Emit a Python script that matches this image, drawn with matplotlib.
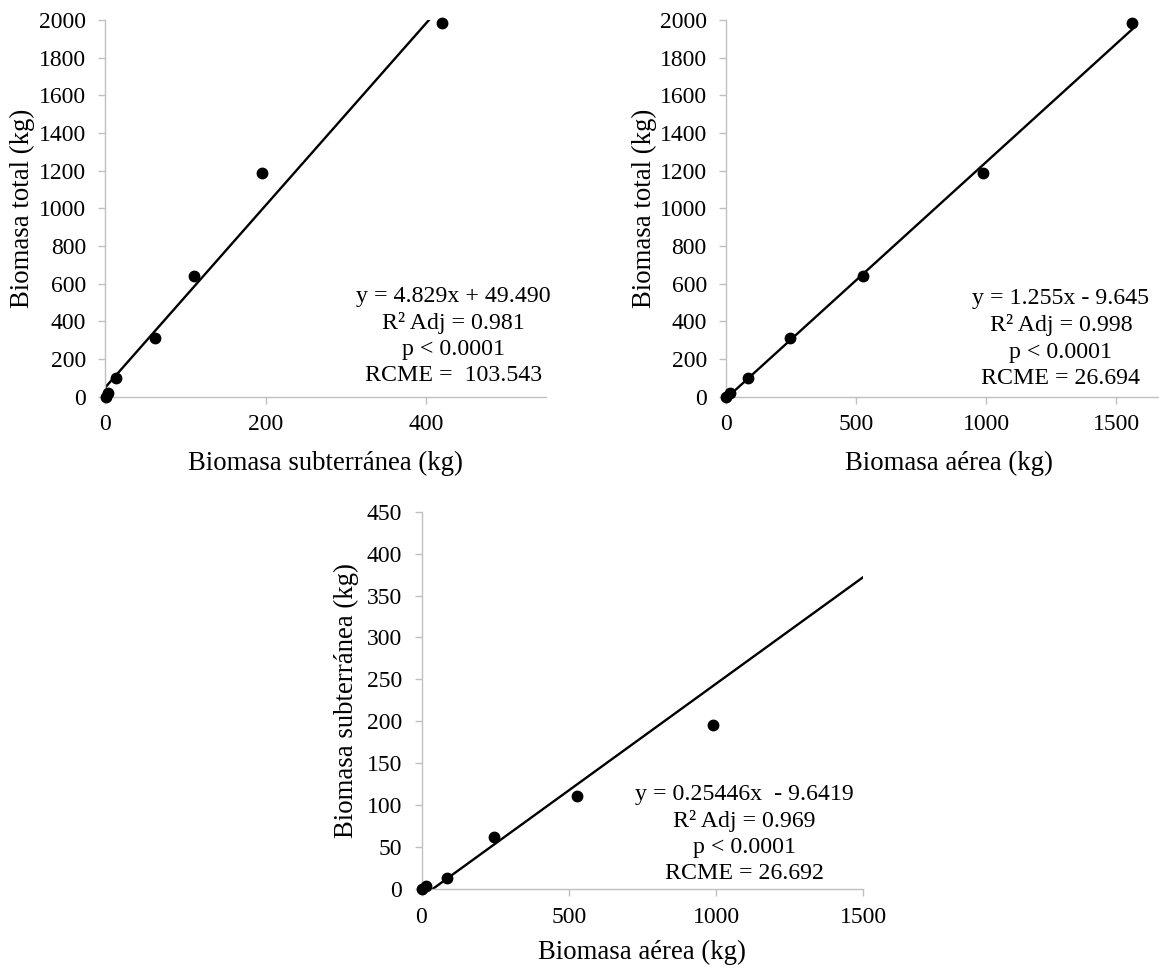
import numpy as np
import matplotlib.pyplot as plt

# biomass per tree (kg)
aerea = [0.5, 16, 85, 247, 528, 989, 1563]
subterranea = [0.3, 3.5, 13, 62, 111, 196, 420]
total = [0.8, 21, 101, 309, 640, 1187, 1986]

# fitted models: (slope, intercept) and their summary text
fit_total_sub = (4.829, 49.490)
fit_total_aer = (1.255, -9.645)
fit_sub_aer = (0.25446, -9.6419)

txt_total_sub = "y = 4.829x + 49.490\nR² Adj = 0.981\np < 0.0001\nRCME =  103.543"
txt_total_aer = "y = 1.255x - 9.645\nR² Adj = 0.998\np < 0.0001\nRCME = 26.694"
txt_sub_aer = "y = 0.25446x  - 9.6419\nR² Adj = 0.969\np < 0.0001\nRCME = 26.692"

plt.rcParams["font.family"] = ["Liberation Serif", "DejaVu Serif"]
FS_TICK = 17
FS_LABEL = 19.3
FS_NOTE = 17.2
GRAY = "#c0c0c0"

W, H = 1159, 969


def px_axes(fig, left, top, right, bottom):
    return fig.add_axes([left / W, 1 - bottom / H, (right - left) / W, (bottom - top) / H])


def panel(ax, x, y, fit, text, xlim, ylim, xticks, yticks, xlabel, ylabel,
          tx, ty, lx, ly):
    x = np.asarray(x, dtype=float)
    y = np.asarray(y, dtype=float)
    slope, icpt = fit
    xs = np.array([0, x.max()])
    ax.plot(xs, slope * xs + icpt, color="black", lw=1.7, zorder=2)

    # dots on the axes are drawn whole, dots past the limits are left out
    inside = (x <= xlim[1]) & (y <= ylim[1])
    ax.plot(x[inside], y[inside], "o", color="black", ms=7.5, clip_on=False, zorder=3)

    ax.set_xlim(*xlim)
    ax.set_ylim(*ylim)
    ax.set_xticks(xticks)
    ax.set_yticks(yticks)
    ax.set_xlabel(xlabel, fontsize=FS_LABEL, va="center")
    ax.set_ylabel(ylabel, fontsize=FS_LABEL, va="center")
    ax.xaxis.set_label_coords(0.5, lx)
    ax.yaxis.set_label_coords(ly, 0.5)

    for side in ("top", "right"):
        ax.spines[side].set_visible(False)
    for side in ("left", "bottom"):
        ax.spines[side].set_color(GRAY)
        ax.spines[side].set_linewidth(1.0)
    ax.tick_params(axis="both", colors=GRAY, labelcolor="black", labelsize=FS_TICK,
                   length=4.8, width=1.0, direction="out")
    ax.tick_params(axis="y", pad=9)
    ax.tick_params(axis="x", pad=8)

    ax.text(tx, ty, text, transform=ax.transAxes, ha="center", va="center",
            multialignment="center", fontsize=FS_NOTE, linespacing=1.32)


fig = plt.figure(figsize=(W / 100, H / 100), dpi=100)

ax1 = px_axes(fig, 105.3, 20, 546, 396.7)
panel(ax1, subterranea, total, fit_total_sub, txt_total_sub,
      (0, 550), (0, 2000), [0, 200, 400], np.arange(0, 2001, 200),
      "Biomasa subterránea (kg)", "Biomasa total (kg)",
      0.790, 0.161, -0.176, -0.187)

ax2 = px_axes(fig, 726, 20, 1172, 396.7)
panel(ax2, aerea, total, fit_total_aer, txt_total_aer,
      (0, 1715), (0, 2000), [0, 500, 1000, 1500], np.arange(0, 2001, 200),
      "Biomasa aérea (kg)", "Biomasa total (kg)",
      0.751, 0.155, -0.176, -0.184)

ax3 = px_axes(fig, 421.5, 511.7, 863.3, 889)
panel(ax3, aerea, subterranea, fit_sub_aer, txt_sub_aer,
      (0, 1500), (0, 450), [0, 500, 1000, 1500], np.arange(0, 451, 50),
      "Biomasa aérea (kg)", "Biomasa subterránea (kg)",
      0.731, 0.146, -0.168, -0.171)

fig.savefig("out.png", dpi=100)
